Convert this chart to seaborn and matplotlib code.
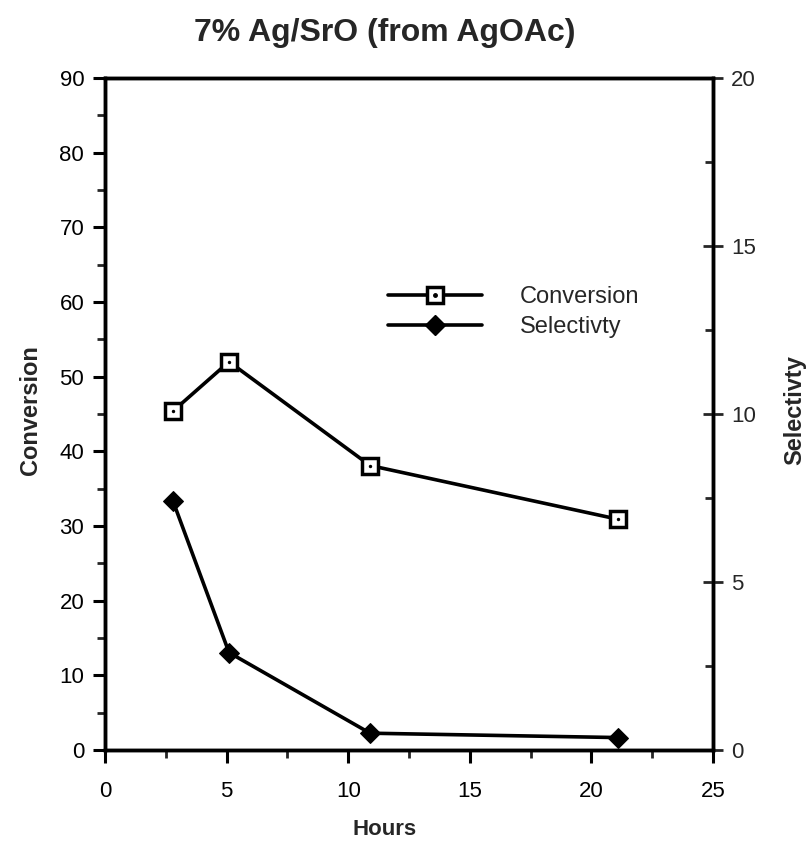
import matplotlib
matplotlib.use("Agg")
import matplotlib.pyplot as plt
import seaborn as sns
from matplotlib.ticker import MultipleLocator
from matplotlib.lines import Line2D
from matplotlib.legend_handler import HandlerTuple

# ---- data ----
hours = [2.8, 5.1, 10.9, 21.1]
conversion = [45.4, 52.0, 38.1, 30.9]
selectivity = [7.4, 2.9, 0.5, 0.37]
series_labels = ["Conversion", "Selectivty"]
title = "7% Ag/SrO (from AgOAc)"

sns.set_theme(style="ticks")
plt.rcParams["font.family"] = ["Liberation Sans", "DejaVu Sans"]

W, H = 811, 844
fig = plt.figure(figsize=(W / 100, H / 100), dpi=100)
L, R, T, B = 105, 713, 78, 750
ax = fig.add_axes([L / W, 1 - B / H, (R - L) / W, (B - T) / H])
ax2 = ax.twinx()

lw = 2.6
sns.lineplot(x=hours, y=conversion, ax=ax, color="black", lw=lw, marker="s",
             markersize=11, markerfacecolor="white", markeredgecolor="black",
             markeredgewidth=2.5, legend=False)
sns.scatterplot(x=hours, y=conversion, ax=ax, color="black", s=6, marker="o",
                linewidth=0, legend=False, zorder=5)
sns.lineplot(x=hours, y=selectivity, ax=ax2, color="black", lw=lw, marker="D",
             markersize=10, markerfacecolor="black", markeredgecolor="black",
             legend=False)

ax.set_xlim(0, 25)
ax.set_ylim(0, 90)
ax2.set_ylim(0, 20)
ax.xaxis.set_major_locator(MultipleLocator(5))
ax.xaxis.set_minor_locator(MultipleLocator(2.5))
ax.yaxis.set_major_locator(MultipleLocator(10))
ax.yaxis.set_minor_locator(MultipleLocator(5))
ax2.yaxis.set_major_locator(MultipleLocator(5))
ax2.yaxis.set_minor_locator(MultipleLocator(2.5))

ax.tick_params(axis="y", which="major", direction="out", length=9, width=2.2,
               labelsize=16, colors="black", pad=6)
ax.tick_params(axis="x", which="major", direction="out", length=9, width=2.2,
               labelsize=16, colors="black", pad=13)
ax.tick_params(axis="both", which="minor", direction="out", length=6, width=2.0)
ax2.tick_params(axis="y", which="major", direction="inout", length=14, width=2.0,
                labelsize=16, pad=6)
ax2.tick_params(axis="y", which="minor", direction="in", length=6, width=2.0)

for a in (ax, ax2):
    for s in a.spines.values():
        s.set_visible(True)
        s.set_linewidth(2.5)
        s.set_color("black")

ax.set_ylabel(series_labels[0], fontsize=17, fontweight="bold")
ax.yaxis.set_label_coords((42 - L) / (R - L), 0.506)
ax2.set_ylabel(series_labels[1], fontsize=17, fontweight="bold")
ax2.yaxis.set_label_coords((783 - L) / (R - L), 0.506)
ax.set_xlabel("Hours", fontsize=16, fontweight="bold")
ax.xaxis.set_label_coords((385 - L) / (R - L), (B - 819) / (B - T))

fig.text(385 / W, 1 - 33 / H, title, ha="center", va="center", fontsize=23,
         fontweight="bold")

h1 = Line2D([], [], color="black", lw=lw, marker="s", markersize=11,
            markerfacecolor="white", markeredgecolor="black", markeredgewidth=2.5)
h1d = Line2D([], [], color="black", lw=0, marker="o", markersize=2.5)
h2 = Line2D([], [], color="black", lw=lw, marker="D", markersize=10)
ax2.legend([(h1, h1d), h2], series_labels, handler_map={tuple: HandlerTuple(ndivide=1)},
           loc="upper left", bbox_to_anchor=(388 / W, 1 - 286 / H),
           bbox_transform=fig.transFigure, frameon=False, fontsize=17,
           handlelength=4.0, handletextpad=1.6, labelspacing=0.35,
           borderpad=0, borderaxespad=0)

fig.savefig("out.png", dpi=100)
